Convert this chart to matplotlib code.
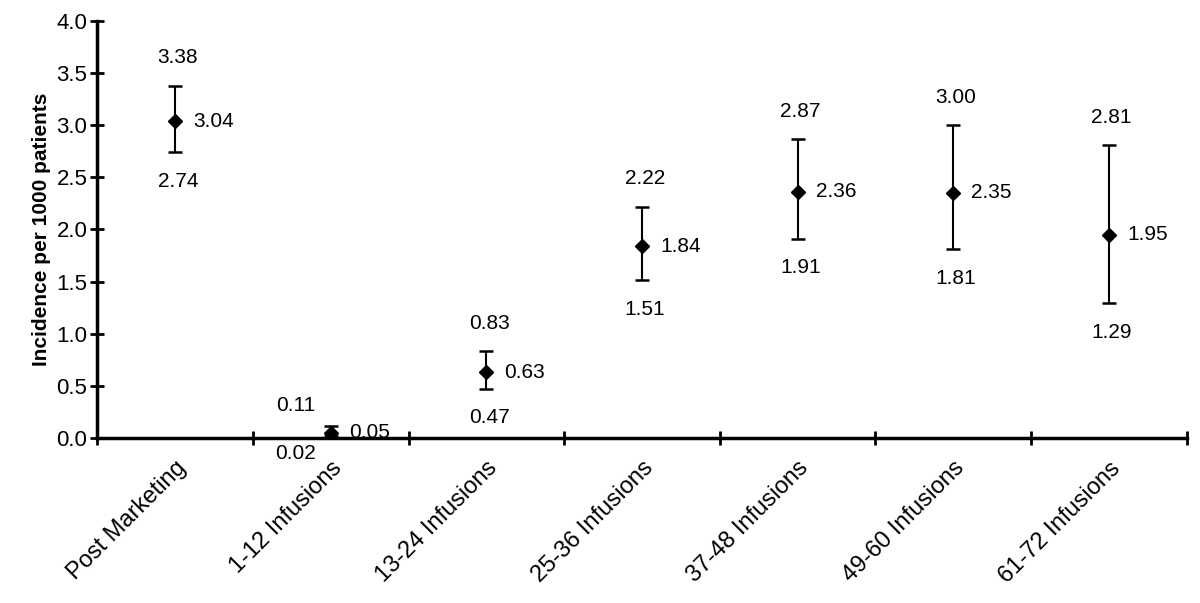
import numpy as np
import matplotlib.pyplot as plt
from matplotlib.ticker import FixedLocator, MultipleLocator

plt.rcParams['font.family'] = ['Liberation Sans', 'DejaVu Sans']

categories = ['Post Marketing', '1-12 Infusions', '13-24 Infusions', '25-36 Infusions',
              '37-48 Infusions', '49-60 Infusions', '61-72 Infusions']
incidence = [3.04, 0.05, 0.63, 1.84, 2.36, 2.35, 1.95]
lower = [2.74, 0.02, 0.47, 1.51, 1.91, 1.81, 1.29]
upper = [3.38, 0.11, 0.83, 2.22, 2.87, 3.00, 2.81]

x = np.arange(len(categories))
yerr = [np.array(incidence) - np.array(lower), np.array(upper) - np.array(incidence)]

fig = plt.figure(figsize=(12, 6.03), dpi=100)
ax = fig.add_axes([0.081, 0.274, 0.908, 0.691])

ax.errorbar(x, incidence, yerr=yerr, fmt='D', color='black', markersize=7,
            ecolor='black', elinewidth=1.5, capsize=5, capthick=1.8, zorder=3)

# value labels
for i in range(len(x)):
    if i == 1:
        up_off, lo_off, up_dx, lo_dx = 15, -13, -25, -25
    else:
        up_off, lo_off, up_dx, lo_dx = 20, -21, 2, 2
    ax.annotate(f'{upper[i]:.2f}', (x[i], upper[i]), xytext=(up_dx, up_off),
                textcoords='offset points', ha='center', va='center', fontsize=15)
    ax.annotate(f'{lower[i]:.2f}', (x[i], lower[i]), xytext=(lo_dx, lo_off),
                textcoords='offset points', ha='center', va='center', fontsize=15)
    ax.annotate(f'{incidence[i]:.2f}', (x[i], incidence[i]), xytext=(13, 0),
                textcoords='offset points', ha='left', va='center', fontsize=15)

ax.set_xlim(-0.5, len(categories) - 0.5)
ax.set_ylim(0, 4.0)
ax.yaxis.set_major_locator(MultipleLocator(0.5))
ax.yaxis.set_major_formatter(plt.FormatStrFormatter('%.1f'))

ax.set_xticks(x)
ax.set_xticklabels(categories, rotation=45, ha='right', rotation_mode='anchor', fontsize=17)
ax.xaxis.set_minor_locator(FixedLocator(np.arange(-0.5, len(categories), 1.0)))
ax.tick_params(axis='x', which='major', length=0, pad=14)
ax.tick_params(axis='x', which='minor', direction='inout', length=10, width=2)
ax.tick_params(axis='y', which='major', direction='inout', length=10, width=2, labelsize=16, pad=2)

ax.spines['top'].set_visible(False)
ax.spines['right'].set_visible(False)
ax.spines['left'].set_linewidth(2.5)
ax.spines['bottom'].set_linewidth(2.5)

ax.set_ylabel('Incidence per 1000 patients', fontsize=15, fontweight='bold', labelpad=4)

fig.savefig('out.png', dpi=100)
